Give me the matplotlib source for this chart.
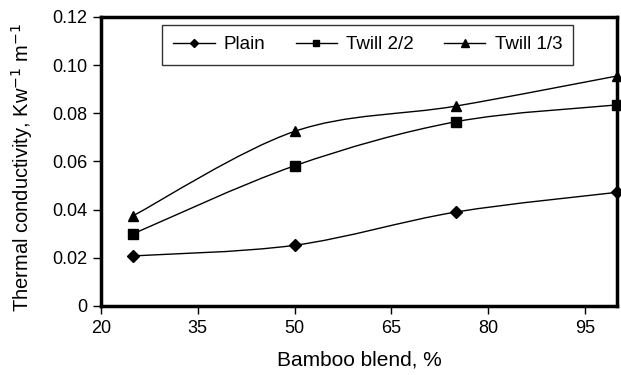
import matplotlib
matplotlib.use('Agg')
import matplotlib.pyplot as plt
from matplotlib.path import Path
from matplotlib.patches import PathPatch
import numpy as np

plt.rcParams['font.family'] = ['Liberation Sans', 'DejaVu Sans']

blend = [25, 50, 75, 100]
plain = [0.0208, 0.0252, 0.039, 0.0472]
twill22 = [0.030, 0.0582, 0.0765, 0.0835]
twill13 = [0.0375, 0.0725, 0.083, 0.0955]
xticks = [20, 35, 50, 65, 80, 95]
yticks = [0, 0.02, 0.04, 0.06, 0.08, 0.10, 0.12]
yticklabels = ['0', '0.02', '0.04', '0.06', '0.08', '0.10', '0.12']


def smooth_path(x, y, t=0.5):
    # Catmull-Rom style bezier through the points (like a spreadsheet smoothed line)
    x = np.asarray(x, float)
    y = np.asarray(y, float)
    verts = [(x[0], y[0])]
    codes = [Path.MOVETO]
    n = len(x)
    for i in range(n - 1):
        p0 = i - 1 if i > 0 else i
        p3 = i + 2 if i + 2 < n else i + 1
        c1 = (x[i] + (x[i + 1] - x[p0]) * t / 3, y[i] + (y[i + 1] - y[p0]) * t / 3)
        c2 = (x[i + 1] - (x[p3] - x[i]) * t / 3, y[i + 1] - (y[p3] - y[i]) * t / 3)
        verts += [c1, c2, (x[i + 1], y[i + 1])]
        codes += [Path.CURVE4] * 3
    return Path(verts, codes)


fig = plt.figure(figsize=(6.21, 3.75), dpi=100)
ax = fig.add_axes([101 / 621, 1 - 306 / 375, 516 / 621, 289 / 375])

series = [(plain, 'D', 'Plain', 6), (twill22, 's', 'Twill 2/2', 6.5), (twill13, '^', 'Twill 1/3', 7.5)]
for vals, m, lab, ms in series:
    ax.add_patch(PathPatch(smooth_path(blend, vals), fill=False, ec='black', lw=1.0))
    ax.plot(blend, vals, ls='none', marker=m, color='black', ms=ms, clip_on=False, zorder=3)
    ax.plot([], [], '-', marker=m, color='black', ms=ms * 0.75, lw=1.0, label=lab)

ax.set_xlim(20, 100)
ax.set_ylim(0, 0.12)
ax.set_xticks(xticks)
ax.set_yticks(yticks)
ax.set_yticklabels(yticklabels)
ax.tick_params(direction='out', length=6, width=1, labelsize=13, pad=4)
for s in ax.spines.values():
    s.set_linewidth(2.5)

ax.set_xlabel('Bamboo blend, %', fontsize=15, labelpad=10)
ax.set_ylabel('Thermal conductivity, Kw$^{-1}$ m$^{-1}$', fontsize=14.5)
ax.yaxis.set_label_coords(-0.128, 0.48)

leg = ax.legend(loc='upper left', bbox_to_anchor=(61 / 516, 1 - 8 / 289), ncol=3, fontsize=13.5,
                frameon=True, fancybox=False, edgecolor='black', handlelength=2.2,
                columnspacing=1.6, handletextpad=0.5, borderpad=0.6, borderaxespad=0)
leg.get_frame().set_linewidth(1.0)

plt.savefig('out.png', dpi=100)
plt.close()
